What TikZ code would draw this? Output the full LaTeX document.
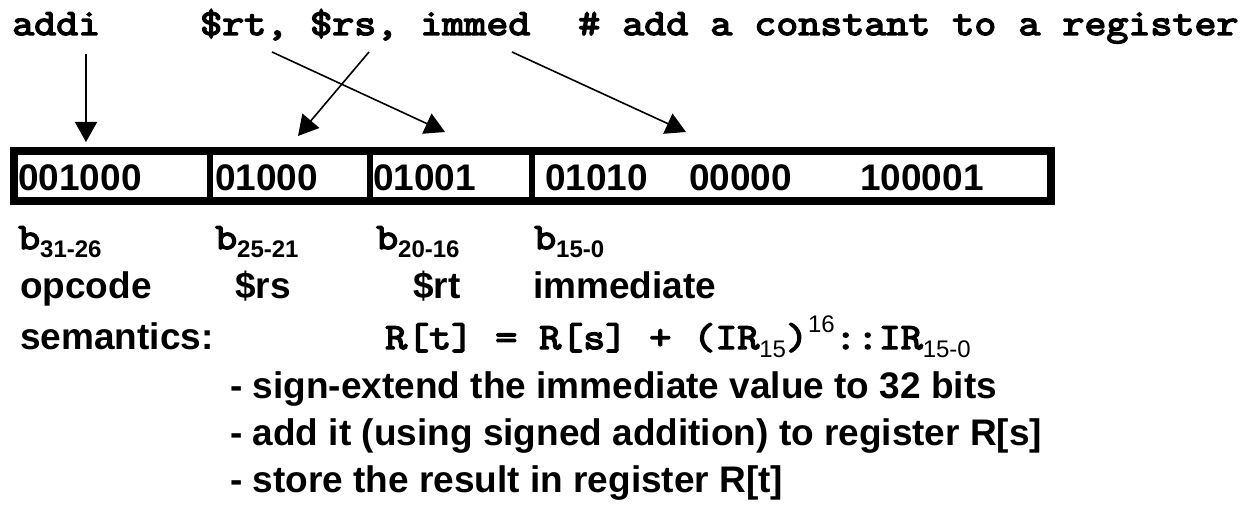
\documentclass[tikz,border=0pt]{standalone}
\usepackage{fontspec}
\setmainfont{Liberation Sans}
\newfontfamily\courfont{Latin Modern Mono}[FakeStretch=1.155, FakeBold=4]
\usetikzlibrary{arrows.meta}
\tikzset{
  mono/.style={anchor=base west, inner sep=0pt, font=\courfont\fontsize{37}{44}\selectfont},
  sans/.style={anchor=base west, inner sep=0pt, font=\bfseries\fontsize{37}{44}\selectfont},
  ptr/.style={line width=1.6pt, -{Triangle[length=20pt, width=22pt]}},
  frame/.style={line width=8pt},
  divider/.style={line width=6.5pt}
}
\newcommand{\subs}[1]{\raisebox{-8pt}{\normalfont\bfseries\fontsize{24}{28}\selectfont #1}}
\newcommand{\subr}[1]{\raisebox{-8pt}{\normalfont\fontsize{24}{28}\selectfont #1}}
\newcommand{\supr}[1]{\raisebox{17pt}{\normalfont\fontsize{24}{28}\selectfont #1}}
\begin{document}
\begin{tikzpicture}[x=1pt,y=-1pt]
\useasboundingbox (0,0) rectangle (1257,505);
% top line
\node[mono] (addi) at (12,35) {addi};
\node[mono] (ops) at (200,35) {\$rt, \$rs, immed};
\node[mono] (cmt) at (578,35) {\# add a constant to a register};
% arrow endpoints
\coordinate (a1s) at (86,54);  \coordinate (a1e) at (86,142);
\coordinate (a2s) at (272,52); \coordinate (a2e) at (445,132);
\coordinate (a3s) at (369,52); \coordinate (a3e) at (298,136);
\coordinate (a4s) at (512,52); \coordinate (a4e) at (686,132);
\draw[ptr] (a1s) -- (a1e);
\draw[ptr] (a2s) -- (a2e);
\draw[ptr] (a3s) -- (a3e);
\draw[ptr] (a4s) -- (a4e);
% instruction box
\draw[frame] (14,151) rectangle (1051,201);
\draw[divider] (210,151) -- (210,201);
\draw[divider] (370,151) -- (370,201);
\draw[divider] (532,151) -- (532,201);
\node[sans] (f1) at (18,190) {001000};
\node[sans] (f2) at (215,190) {01000};
\node[sans] (f3) at (373,190) {01001};
\node[sans] (f4) at (545,190) {01010};
\node[sans] (f5) at (689,190) {00000};
\node[sans] (f6) at (860,190) {100001};
% bit ranges
\node[mono] (b1) at (18,249) {b\subs{31-26}};
\node[mono] (b2) at (215,249) {b\subs{25-21}};
\node[mono] (b3) at (376,249) {b\subs{20-16}};
\node[mono] (b4) at (534,249) {b\subs{15-0}};
% field names
\node[sans] (n1) at (20,298) {opcode};
\node[sans] (n2) at (235,298) {\$rs};
\node[sans] (n3) at (413,298) {\$rt};
\node[sans] (n4) at (533,298) {immediate};
% semantics
\node[sans] (sem) at (20,349) {semantics:};
\node[mono] (form) at (385,349) {R[t] = R[s] + (IR\subr{15})\supr{16}::IR\subr{15-0}};
\node[sans] (l1) at (230,398) {- sign-extend the immediate value to 32 bits};
\node[sans] (l2) at (230,445) {- add it (using signed addition) to register R[s]};
\node[sans] (l3) at (230,492) {- store the result in register R[t]};
\end{tikzpicture}
\end{document}
